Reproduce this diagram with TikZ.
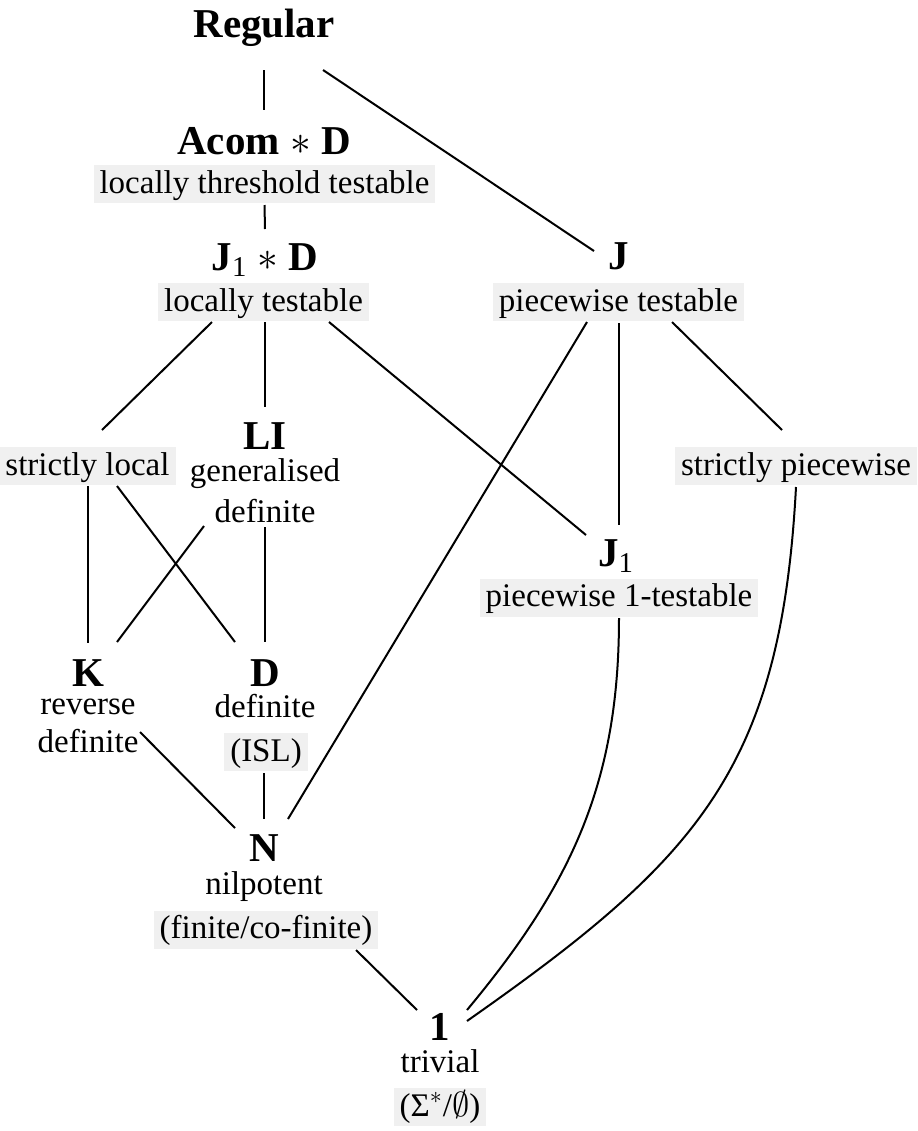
\documentclass[tikz,border=0pt]{standalone}
\usepackage{fontspec}
\setmainfont{Liberation Serif}
\usetikzlibrary{calc}
\definecolor{boxgray}{HTML}{F0F0F0}
\tikzset{
    cls/.style={font=\fontsize{20.5}{24}\selectfont\bfseries, text height=14pt, text depth=0.5pt, inner sep=1.5pt},
    desc/.style={font=\fontsize{16.5}{19}\selectfont, text height=11pt, text depth=3.5pt, inner xsep=3pt, inner ysep=1pt},
    hl/.style={desc, text height=12.5pt, inner ysep=1.5pt, fill=boxgray}
}

\begin{document}
\begin{tikzpicture}[x=0.5pt, y=-0.5pt, line width=1pt]
    \useasboundingbox (0,0) rectangle (917,1131);
    \node[cls] (reg) at (264,24) {Regular};
    \node[cls] (acom) at (264,141) {Acom $\ast$ D};
    \node[hl] (ltt) at (264.5,184) {locally threshold testable};
    \node[cls] (jd) at (265,257) {J\textsubscript{\mdseries 1} $\ast$ D};
    \node[hl] (lt) at (263.5,302) {locally testable};
    \node[cls] (J) at (619,256) {J};
    \node[hl] (pt) at (618.5,302) {piecewise testable};
    \node[hl] (sl) at (87.5,466) {strictly local};
    \node[cls] (LI) at (265,436) {LI};
    \node[desc] (gd1) at (265,474) {generalised};
    \node[desc] (gd2) at (265,515) {definite};
    \node[hl] (sp) at (796,466) {strictly piecewise};
    \node[cls] (J1) at (616,553) {J\textsubscript{\mdseries 1}};
    \node[hl] (p1t) at (619,597.5) {piecewise 1-testable};
    \node[cls] (K) at (88,673) {K};
    \node[desc] (rd1) at (88,707) {reverse};
    \node[desc] (rd2) at (88,745) {definite};
    \node[cls] (D) at (265,673) {D};
    \node[desc] (dd) at (265,710) {definite};
    \node[hl] (isl) at (266,752) {(ISL)};
    \node[cls] (N) at (264,848) {N};
    \node[desc] (nil) at (264,887) {nilpotent};
    \node[hl] (fcf) at (266,929.5) {(finite/co-finite)};
    \node[cls] (one) at (440,1027) {1};
    \node[desc] (triv) at (440,1065) {trivial};
    \node[hl] (sig) at (440,1107) {(Σ$^*$/$\emptyset$)};

    \draw ($(reg)+(0,46)$) -- ($(acom)+(0,-31)$);
    \draw ($(reg)+(59,46)$) -- ($(J)+(-25,-5)$);
    \draw ($(ltt)+(0,21)$) -- ($(jd)+(0,-28)$);
    \draw ($(lt)+(-51.5,20)$) -- ($(sl)+(14.5,-36)$);
    \draw ($(lt)+(1.5,20)$) -- ($(LI)+(0,-29)$);
    \draw ($(lt)+(65.5,20)$) -- ($(J1)+(-30,-18)$);
    \draw ($(pt)+(-31.5,20)$) -- ($(N)+(24,-29)$);
    \draw ($(pt)+(0.5,21)$) -- ($(J1)+(3,-28)$);
    \draw ($(pt)+(53.5,20)$) -- ($(sp)+(-14,-36)$);
    \draw ($(sl)+(0.5,20)$) -- ($(K)+(0,-30)$);
    \draw ($(sl)+(29.5,20)$) -- ($(D)+(-30,-31)$);
    \draw ($(gd2)+(-61,11)$) -- ($(K)+(29,-31)$);
    \draw ($(gd2)+(0,12)$) -- ($(D)+(0,-31)$);
    \draw ($(rd2)+(52,-13)$) -- ($(N)+(-29,-20)$);
    \draw ($(isl)+(-2,21)$) -- ($(N)+(0,-29)$);
    \draw ($(fcf)+(90,20.5)$) -- ($(one)+(-23,-17)$);
    \draw ($(p1t)+(0,20.5)$) .. controls +(0,164) and +(105,-126) .. ($(one)+(27,-17)$);
    \draw ($(sp)+(0,21)$) .. controls +(-15,282) and +(231,-162) .. ($(one)+(27,-6)$);
\end{tikzpicture}
\end{document}
